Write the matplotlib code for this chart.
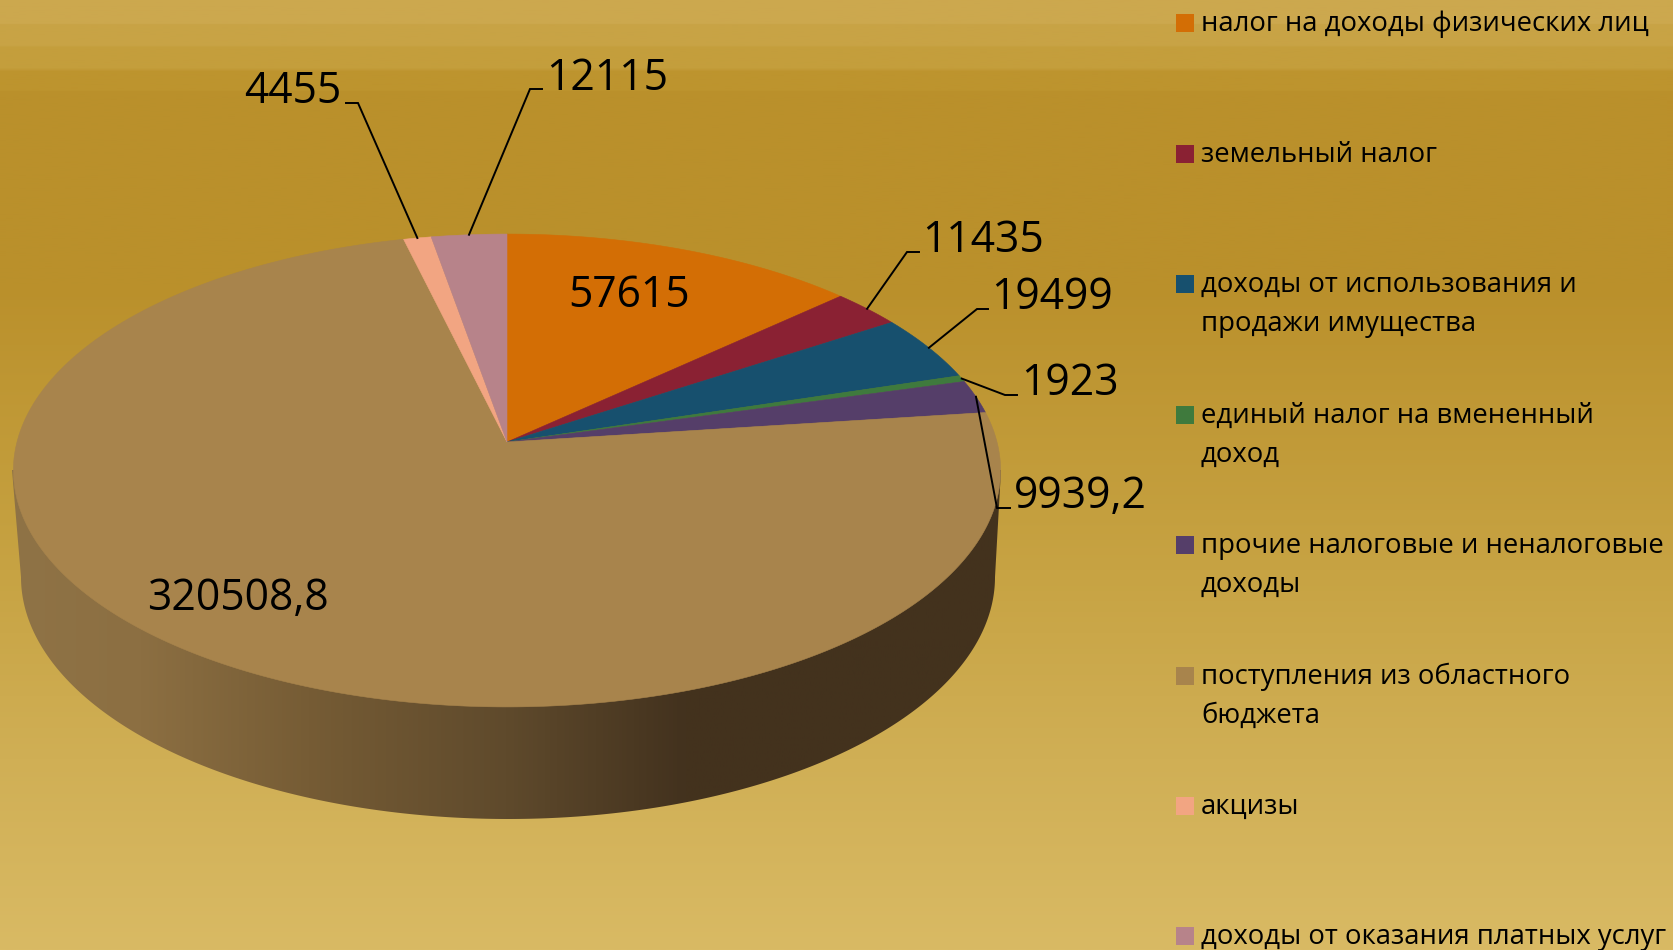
import numpy as np
import matplotlib
matplotlib.use("Agg")
import matplotlib.pyplot as plt
from matplotlib.patches import Polygon, Rectangle
from matplotlib.colors import LinearSegmentedColormap

# ---- data ----
categories = [
    "налог на доходы физических лиц",
    "земельный налог",
    "доходы от использования и\nпродажи имущества",
    "единый налог на вмененный\nдоход",
    "прочие налоговые и неналоговые\nдоходы",
    "поступления из областного\nбюджета",
    "акцизы",
    "доходы от оказания платных услуг",
]
values = [57615, 11435, 19499, 1923, 9939.2, 320508.8, 4455, 12115]
value_labels = ["57615", "11435", "19499", "1923", "9939,2", "320508,8", "4455", "12115"]
colors = ["#D36E05", "#8A2133", "#17506E", "#3F7A3D", "#553E69", "#A8844C", "#F2A582", "#B7838A"]

# ---- layout (pixels) ----
W, H = 1674, 950
FONT = "Open Sans"
CX, APEX_Y, A, B, K = 507.0, 442.0, 233.0, 490.0, 0.1205
LOW = (508.0, 577.0, 487.0, 242.0)
# label: text anchor x, baseline y, ha, elbow points (None = no leader)
label_layout = [
    (629, 307, "center", None),
    (922, 252, "left", [(919, 252), (907, 252)]),
    (991, 309, "left", [(988, 309), (977, 309)]),
    (1021, 395, "left", [(1017, 395), (1005, 395)]),
    (1014, 508, "left", [(1010, 508), (997, 508)]),
    (238, 610, "center", None),
    (341, 103, "right", [(346, 103), (358, 103)]),
    (546, 90, "left", [(542, 89), (530, 89)]),
]
legend_y = [23, 154, 284, 415, 545, 676, 806, 936]


def project(theta, r=1.0):
    """Clockwise pie angle from the top -> pixel position on the perspective disc."""
    u, v = r * np.sin(theta), r * np.cos(theta)
    d = 1 + K * v
    return CX + B * u / d, APEX_Y - A * v / d


fig = plt.figure(figsize=(W / 100, H / 100), dpi=100)
ax = fig.add_axes([0, 0, 1, 1])
ax.set_xlim(0, W)
ax.set_ylim(H, 0)
ax.axis("off")

# background
bg = LinearSegmentedColormap.from_list("bg", [
    (0.0, "#CCA84E"), (0.024, "#CCA84E"), (0.025, "#C8A345"), (0.048, "#C8A345"),
    (0.049, "#C49E3C"), (0.072, "#C49E3C"), (0.073, "#BD942E"), (0.095, "#BD942E"),
    (0.096, "#BA902B"), (0.30, "#BA902B"), (0.60, "#C7A343"), (0.80, "#D0AF55"), (1.0, "#D9BA64"),
], N=512)
ax.imshow(np.linspace(0, 1, 512)[:, None], cmap=bg, extent=(0, W, H, 0), aspect="auto", zorder=0)

# side wall
lcx, lcy, lrx, lry = LOW
arc = np.linspace(np.pi, 0, 361)
side_pts = np.column_stack([lcx + lrx * np.cos(arc), lcy + lry * np.sin(arc)])
side_pts = np.vstack([[CX - 495, 470], side_pts, [CX + 494, 470]])
side_clip = Polygon(side_pts, closed=True, transform=ax.transData, facecolor="none", edgecolor="none")
ax.add_patch(side_clip)
side_cm = LinearSegmentedColormap.from_list("side", [
    (0.0, "#8F7346"), (0.13, "#8C6F42"), (0.30, "#765C35"), (0.50, "#5F4A2C"),
    (0.68, "#43321E"), (1.0, "#43321D"),
])
im = ax.imshow(np.linspace(0, 1, 512)[None, :], cmap=side_cm, extent=(10, 1003, 825, 465),
               aspect="auto", zorder=1)
im.set_clip_path(side_clip)

# top face slices (from the values)
fracs = np.asarray(values, dtype=float) / np.sum(values)
edges = np.concatenate([[0], np.cumsum(fracs)]) * 2 * np.pi
apex = project(0.0, 0.0)
mids = []
for i, col in enumerate(colors):
    th = np.linspace(edges[i], edges[i + 1], max(3, int(fracs[i] * 720)))
    x, y = project(th)
    ax.add_patch(Polygon(np.vstack([apex, np.column_stack([x, y])]), closed=True,
                         facecolor=col, edgecolor=col, lw=0.4, zorder=2))
    mids.append(0.5 * (edges[i] + edges[i + 1]))

# data labels and leaders
for lab, m, (tx, ty, ha, elbow) in zip(value_labels, mids, label_layout):
    ax.text(tx, ty, lab, ha=ha, va="baseline", fontsize=30.7, family=FONT, color="black", zorder=5)
    if elbow:
        sx, sy = project(m)
        pts = elbow + [(sx, sy)]
        ax.plot(*zip(*pts), color="black", lw=1.4, zorder=4, solid_joinstyle="miter")

# legend
for cat, col, y in zip(categories, colors, legend_y):
    ax.add_patch(Rectangle((1176, y - 9), 18, 18, facecolor=col, edgecolor="none", zorder=3))
    for j, line in enumerate(cat.split("\n")):
        ax.text(1201, y + 8 + j * 39, line, ha="left", va="baseline", fontsize=19.8,
                family=FONT, color="black", zorder=5)

fig.savefig("out.png", dpi=100)
